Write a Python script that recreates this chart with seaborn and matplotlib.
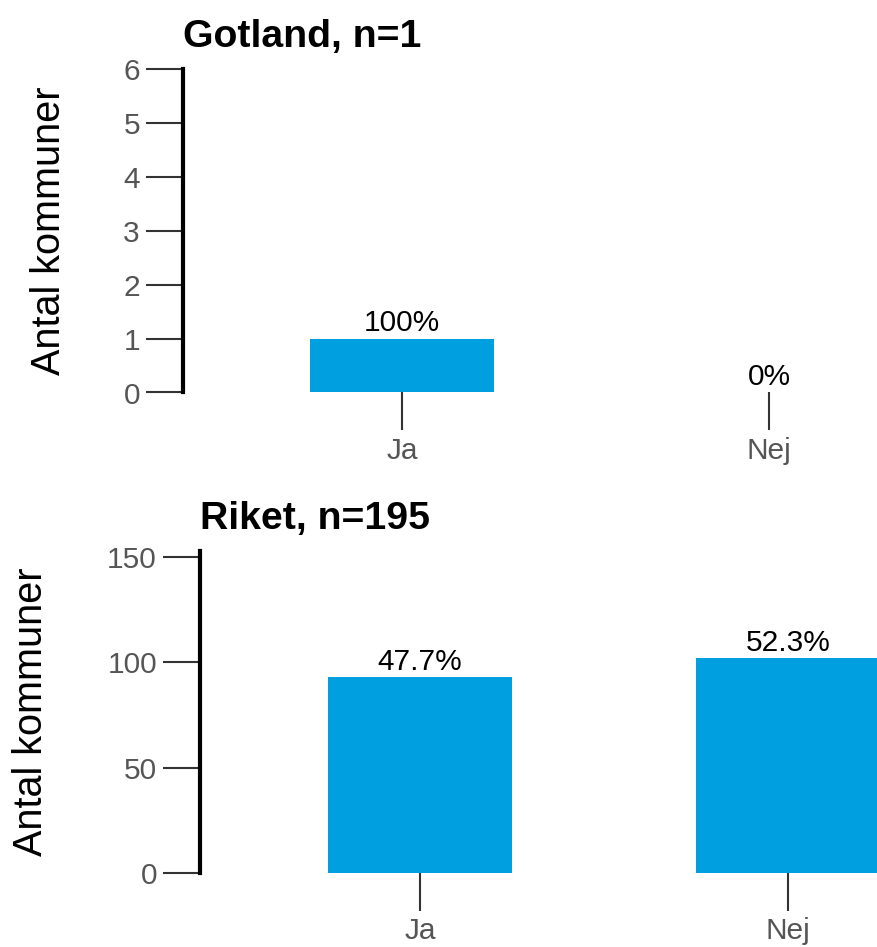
import matplotlib
matplotlib.use("Agg")
import matplotlib.pyplot as plt
import seaborn as sns
import pandas as pd

categories = ["Ja", "Nej"]
gotland_values = [1, 0]
riket_values = [93, 102]
titles = ["Gotland, n=1", "Riket, n=195"]
ylabel = "Antal kommuner"
gotland_yticks = [0, 1, 2, 3, 4, 5, 6]
riket_yticks = [0, 50, 100, 150]

sns.set_style("white")
plt.rcParams["font.family"] = ["Liberation Sans", "DejaVu Sans"]

BAR = "#009FE0"
TICKC = "#333333"
LABC = "#555555"

W, H = 877, 947
fig = plt.figure(figsize=(W / 100, H / 100), dpi=100)

def px_axes(left, top, bottom, right=877):
    return fig.add_axes([left / W, 1 - bottom / H, (right - left) / W, (bottom - top) / H])

ax1 = px_axes(183, 69.3, 392.5)
ax2 = px_axes(200, 551, 873)

def fmt(p):
    s = f"{p:.1f}"
    if s.endswith(".0"):
        s = s[:-2]
    return s + "%"

specs = [
    (ax1, gotland_values, titles[0], gotland_yticks, (0, 6), (-0.597, 1.294), -0.165),
    (ax2, riket_values, titles[1], riket_yticks, (0, 152.8), (-0.598, 1.242), -0.221),
]

for ax, vals, title, yt, ylim, xlim, ylab_x in specs:
    df = pd.DataFrame({"cat": categories, "val": vals})
    sns.barplot(data=df, x="cat", y="val", ax=ax, color=BAR, width=0.5,
                saturation=1, edgecolor="none")
    total = sum(vals)
    labels = [fmt(v / total * 100) for v in vals]
    ax.bar_label(ax.containers[0], labels=labels, padding=1, fontsize=21.5, color="black")
    ax.set_ylim(*ylim)
    ax.set_xlim(*xlim)
    ax.set_yticks(yt)
    ax.set_xlabel("")
    ax.set_ylabel(ylabel, fontsize=28.5, color="black")
    ax.yaxis.set_label_coords(ylab_x, 0.5)
    ax.set_title(title, loc="left", fontsize=28.3, fontweight="bold", pad=16, color="black")
    for s in ["top", "right", "bottom"]:
        ax.spines[s].set_visible(False)
    ax.spines["left"].set_linewidth(3)
    ax.spines["left"].set_color("black")
    ax.tick_params(axis="both", length=27, width=1.5, color=TICKC,
                   labelsize=21.5, labelcolor=LABC, direction="out")
    ax.tick_params(axis="y", pad=4, left=True)
    ax.tick_params(axis="x", pad=5, bottom=True)
    ax.set_facecolor("white")

fig.savefig("out.png", dpi=100, facecolor="white")
